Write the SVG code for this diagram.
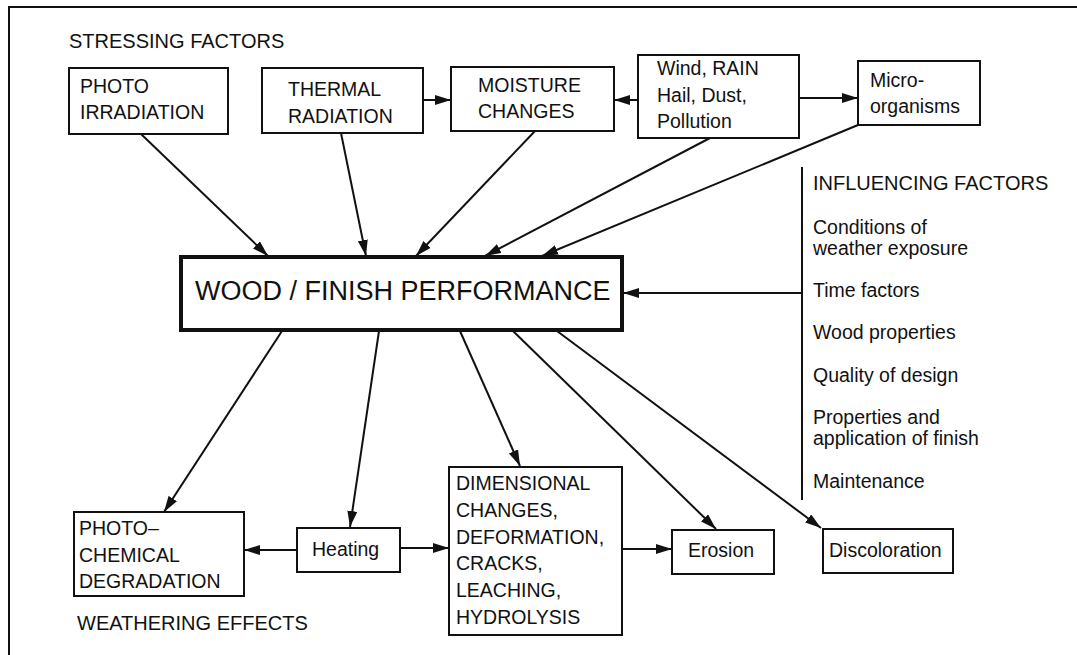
<svg xmlns="http://www.w3.org/2000/svg" width="1077" height="655" viewBox="0 0 1077 655">
<style>
.bx{fill:#fff;stroke:#111;stroke-width:2}
.main{fill:#fff;stroke:#111;stroke-width:4}
.t{font-family:"Liberation Sans",Arial,sans-serif;font-size:19.5px;fill:#111}
.h{font-family:"Liberation Sans",Arial,sans-serif;font-size:20px;fill:#111}
.big{font-family:"Liberation Sans",Arial,sans-serif;font-size:27px;fill:#111}
.c{fill:none;stroke:#111;stroke-width:2;marker-end:url(#ah)}
.ln{fill:none;stroke:#111;stroke-width:2}
</style>
<defs>
<marker id="ah" markerUnits="userSpaceOnUse" markerWidth="17" markerHeight="11" refX="16" refY="5" orient="auto">
<path d="M0,0 L16,5 L0,10 z" fill="#111"/>
</marker>
</defs>
<rect width="1077" height="655" fill="#fff"/>
<path d="M9,655 L9,7 L1077,7" class="ln"/>
<text class="h" x="69" y="48">STRESSING FACTORS</text>
<text class="h" x="77" y="630">WEATHERING EFFECTS</text>

<g id="connectors">
<line class="c" x1="423" y1="100" x2="451" y2="100"/>
<line class="c" x1="638" y1="100" x2="614" y2="100"/>
<line class="c" x1="799" y1="98" x2="858" y2="98"/>
<line class="c" x1="141" y1="134" x2="268" y2="256"/>
<line class="c" x1="341" y1="133" x2="366" y2="256"/>
<line class="c" x1="535" y1="131" x2="416" y2="256"/>
<line class="c" x1="710" y1="138" x2="485" y2="256"/>
<line class="c" x1="858" y1="125" x2="542" y2="256"/>
<line class="ln" x1="802" y1="167" x2="802" y2="500"/>
<line class="c" x1="802" y1="293" x2="623" y2="293"/>
<line class="c" x1="282" y1="331" x2="164" y2="512"/>
<line class="c" x1="379" y1="331" x2="350" y2="527"/>
<line class="c" x1="460" y1="331" x2="520" y2="466"/>
<line class="c" x1="513" y1="331" x2="716" y2="529"/>
<line class="c" x1="557" y1="331" x2="821" y2="528"/>
<line class="c" x1="297" y1="550" x2="244" y2="550"/>
<line class="c" x1="400" y1="548" x2="449" y2="548"/>
<line class="c" x1="622" y1="549" x2="672" y2="549"/>
</g>

<g id="photo-irradiation">
<rect class="bx" x="69" y="68" width="159" height="66"/>
<text class="t" x="80" y="93">PHOTO</text>
<text class="t" x="80" y="119">IRRADIATION</text>
</g>
<g id="thermal-radiation">
<rect class="bx" x="262" y="68" width="161" height="65"/>
<text class="t" x="288" y="96">THERMAL</text>
<text class="t" x="288" y="123">RADIATION</text>
</g>
<g id="moisture-changes">
<rect class="bx" x="451" y="67" width="163" height="64"/>
<text class="t" x="478" y="92">MOISTURE</text>
<text class="t" x="478" y="118">CHANGES</text>
</g>
<g id="wind-rain">
<rect class="bx" x="638" y="55" width="161" height="83"/>
<text class="t" x="657" y="75">Wind, RAIN</text>
<text class="t" x="657" y="102">Hail, Dust,</text>
<text class="t" x="657" y="128">Pollution</text>
</g>
<g id="micro-organisms">
<rect class="bx" x="858" y="61" width="122" height="64"/>
<text class="t" x="870" y="87">Micro-</text>
<text class="t" x="870" y="113">organisms</text>
</g>
<g id="wood-finish-performance">
<rect class="main" x="181" y="257" width="441" height="73"/>
<text class="big" x="195" y="300">WOOD / FINISH PERFORMANCE</text>
</g>
<g id="influencing-factors">
<text class="h" x="813" y="190">INFLUENCING FACTORS</text>
<text class="t" x="813" y="234">Conditions of</text>
<text class="t" x="813" y="255">weather exposure</text>
<text class="t" x="813" y="297">Time factors</text>
<text class="t" x="813" y="339">Wood properties</text>
<text class="t" x="813" y="382">Quality of design</text>
<text class="t" x="813" y="424">Properties and</text>
<text class="t" x="813" y="445">application of finish</text>
<text class="t" x="813" y="488">Maintenance</text>
</g>
<g id="photochemical-degradation">
<rect class="bx" x="74" y="512" width="170" height="84"/>
<text class="t" x="79" y="535">PHOTO–</text>
<text class="t" x="79" y="562">CHEMICAL</text>
<text class="t" x="79" y="588">DEGRADATION</text>
</g>
<g id="heating">
<rect class="bx" x="297" y="528" width="103" height="44"/>
<text class="t" x="312" y="556">Heating</text>
</g>
<g id="dimensional-changes">
<rect class="bx" x="449" y="467" width="173" height="168"/>
<text class="t" x="456" y="490">DIMENSIONAL</text>
<text class="t" x="456" y="517">CHANGES,</text>
<text class="t" x="456" y="544">DEFORMATION,</text>
<text class="t" x="456" y="570">CRACKS,</text>
<text class="t" x="456" y="597">LEACHING,</text>
<text class="t" x="456" y="624">HYDROLYSIS</text>
</g>
<g id="erosion">
<rect class="bx" x="672" y="530" width="102" height="44"/>
<text class="t" x="688" y="557">Erosion</text>
</g>
<g id="discoloration">
<rect class="bx" x="823" y="529" width="130" height="44"/>
<text class="t" x="829" y="557">Discoloration</text>
</g>
</svg>
